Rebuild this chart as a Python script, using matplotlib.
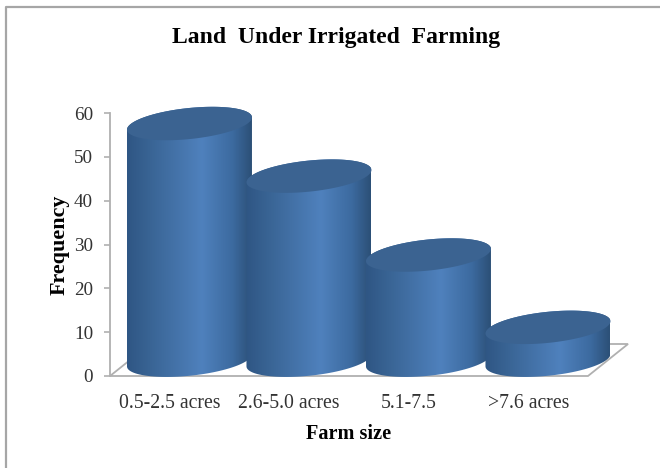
"""3D-look cylinder chart of irrigated land by farm size."""
import numpy as np
import matplotlib
matplotlib.use('Agg')
import matplotlib.pyplot as plt
from matplotlib.colors import LinearSegmentedColormap
from matplotlib.patches import PathPatch, Polygon
from matplotlib.path import Path

categories = ['0.5-2.5 acres', '2.6-5.0 acres', '5.1-7.5', '>7.6 acres']
frequency = [54, 42, 24, 7.5]
y_ticks = [0, 10, 20, 30, 40, 50, 60]

W, H = 660, 468
GREY = '#b0b0b0'
TEXT = '#333333'
TOP = '#3b6391'
SHADE = LinearSegmentedColormap.from_list(
    'cyl', [(0, '#2f5684'), (0.18, '#396494'), (0.6, '#4f81bd'), (0.85, '#3c6a9f'), (1, '#2c5077')])

# cylinder shape, in category widths and frequency units
HALF_W = 0.523
SHIFT_X = 0.165      # cylinders stand mid-way into the floor
BASE_Y = 3.6
SHEAR = 1.4          # tilt of the elliptical caps
CAP_RY = 3.55
DEPTH_X, DEPTH_Y = 0.335, 7.3

plt.rcParams['font.family'] = ['Liberation Serif', 'DejaVu Serif']


def cap(cx, cy, t):
    return np.column_stack([cx + HALF_W * np.cos(t),
                            cy + SHEAR * np.cos(t) + CAP_RY * np.sin(t)])


def draw_cylinder(ax, i, value):
    cx = i + SHIFT_X
    # lower half of the base, then back over the upper rim of the top cap
    low = cap(cx, BASE_Y, np.linspace(np.pi, 2 * np.pi, 60))
    high = cap(cx, BASE_Y + value, np.linspace(0, np.pi, 60))
    body = np.vstack([low, high, low[:1]])
    patch = PathPatch(Path(body), fc='none', ec='none', transform=ax.transData, clip_on=False)
    ax.add_patch(patch)
    grad = np.linspace(0, 1, 200).reshape(1, -1)
    im = ax.imshow(grad, cmap=SHADE, aspect='auto', interpolation='bilinear', zorder=3 + i,
                   extent=[cx - HALF_W, cx + HALF_W, -2, BASE_Y + value + CAP_RY + 2])
    im.set_clip_box(fig.bbox)
    im.set_clip_path(patch)
    top = cap(cx, BASE_Y + value, np.linspace(0, 2 * np.pi, 120))
    ax.add_patch(Polygon(top, closed=True, fc=TOP, ec='none', zorder=3 + i + 0.5, clip_on=False))


fig = plt.figure(figsize=(W / 100, H / 100), dpi=100)
ax = fig.add_axes([110 / W, 1 - 376 / H, 478 / W, 263 / H])

for i, v in enumerate(frequency):
    draw_cylinder(ax, i, v)

ax.set_xlim(-0.5, 3.5)
ax.set_ylim(0, 60)
ax.patch.set_visible(False)

# floor of the 3D box
floor = [(-0.5, 0), (3.5, 0), (3.5 + DEPTH_X, DEPTH_Y), (-0.5 + DEPTH_X, DEPTH_Y)]
ax.add_patch(Polygon(floor, closed=True, fc='none', ec=GREY, lw=1.3, zorder=1, clip_on=False))

for s in ['top', 'right', 'bottom']:
    ax.spines[s].set_visible(False)
ax.spines['left'].set_color(GREY)
ax.spines['left'].set_linewidth(1.3)

ax.set_yticks(y_ticks)
ax.set_xticks(range(len(categories)), categories)
ax.tick_params(axis='y', length=4.3, width=1.2, color=GREY, labelsize=13.8, labelcolor=TEXT, pad=8)
ax.tick_params(axis='x', length=0, labelsize=14.2, labelcolor=TEXT, pad=13)

ax.set_xlabel('Farm size', fontsize=14.6, fontweight='bold', labelpad=8)
ax.set_ylabel('Frequency', fontsize=15.8, fontweight='bold', labelpad=3)
fig.text(336 / W, 1 - 37 / H, 'Land  Under Irrigated  Farming', fontsize=17, fontweight='bold',
         ha='center', va='center')

# frame around the chart area
fig.add_artist(plt.Line2D([6 / W, 6 / W, 1], [0, 1 - 7 / H, 1 - 7 / H], color='#a6a6a6', lw=1.6))

fig.savefig('out.png', dpi=100)
